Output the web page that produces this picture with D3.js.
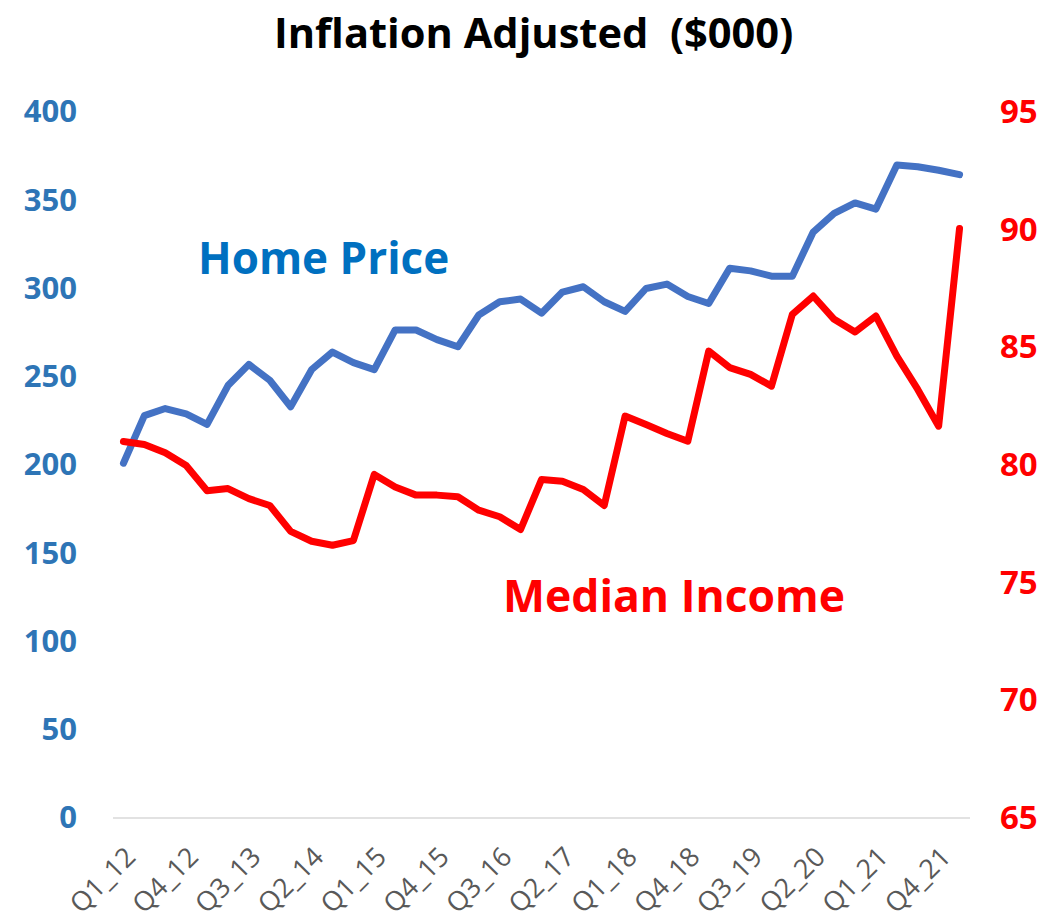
<!DOCTYPE html>
<html>
<head>
<meta charset="utf-8">
<script src="https://cdn.jsdelivr.net/npm/d3@7"></script>
<style>
  body { margin: 0; background: #fff; }
  svg { display: block; }
</style>
</head>
<body>
<div id="chart"></div>
<script>
// quarters Q1_12 .. Q1_22
const quarters = [];
for (let yr = 12; yr <= 22; yr++) {
	for (let q = 1; q <= 4; q++) {
		if (yr === 22 && q > 1) break;
		quarters.push("Q" + q + "_" + yr);
	}
}

// home price, $000 (left axis)
const homePrice = [201, 228, 232, 229, 223, 245, 257, 248, 233, 254,
	264, 258, 254, 276.5, 276.5, 271, 267, 285, 292.5, 294,
	286, 298, 301, 292.5, 287, 300, 302.5, 295.5, 291.5, 311.5,
	310, 307, 307, 332, 342.5, 348.5, 345, 370, 369, 367, 364.5];

// median income, $000 (right axis)
const medianIncome = [81.0, 80.87, 80.52, 79.98, 78.91, 79.0, 78.57, 78.28, 77.18, 76.76,
	76.59, 76.79, 79.6, 79.07, 78.72, 78.72, 78.65, 78.08, 77.8, 77.26,
	79.38, 79.31, 78.96, 78.28, 82.08, 81.72, 81.34, 81.01, 84.84, 84.14,
	83.85, 83.35, 86.4, 87.18, 86.19, 85.65, 86.33, 84.63, 83.21, 81.65, 90.05];

const leftTicks = [0, 50, 100, 150, 200, 250, 300, 350, 400];
const rightTicks = [65, 70, 75, 80, 85, 90, 95];
// every third quarter gets a label
const tickLabels = quarters.filter((d, i) => i % 3 === 0 && i < 40);

const W = 1051, H = 923;
const margin = { top: 112, right: 81, bottom: 105, left: 113 };
const FONT = "'Open Sans', Lato, sans-serif";

const svg = d3.select("#chart").append("svg")
	.attr("width", W)
	.attr("height", H);

const x = d3.scaleBand()
	.domain(quarters)
	.range([margin.left, W - margin.right]);

const yL = d3.scaleLinear()
	.domain([0, 400])
	.range([H - margin.bottom, margin.top]);

const yR = d3.scaleLinear()
	.domain([65, 95])
	.range([H - margin.bottom, margin.top]);

const cx = d => x(d) + x.bandwidth() / 2;

// title
svg.append("text")
	.attr("x", 274)
	.attr("y", 48)
	.style("font-family", FONT)
	.style("font-weight", "bold")
	.style("font-size", "41.6px")
	.style("fill", "#000")
	.attr("xml:space", "preserve")
	.text("Inflation Adjusted  ($000)");

// left axis
const gL = svg.append("g")
	.attr("transform", `translate(${margin.left},0)`)
	.call(d3.axisLeft(yL).tickValues(leftTicks).tickSize(0).tickPadding(36));
gL.select(".domain").remove();
gL.selectAll("text")
	.style("font-family", FONT)
	.style("font-weight", "bold")
	.style("font-size", "31px")
	.style("fill", "#2E75B6");

// right axis
const gR = svg.append("g")
	.attr("transform", `translate(${W - margin.right},0)`)
	.call(d3.axisRight(yR).tickValues(rightTicks).tickSize(0).tickPadding(30));
gR.select(".domain").remove();
gR.selectAll("text")
	.style("font-family", FONT)
	.style("font-weight", "bold")
	.style("font-size", "33px")
	.style("fill", "#FF0000");

// x axis baseline
svg.append("line")
	.attr("x1", margin.left)
	.attr("x2", W - margin.right)
	.attr("y1", yL(0))
	.attr("y2", yL(0))
	.style("stroke", "#D9D9D9")
	.style("stroke-width", 1.5);

// x labels, rotated
svg.append("g").selectAll("text")
	.data(tickLabels)
	.enter().append("text")
	.attr("transform", d => `translate(${cx(d) + 7},${yL(0) + 34}) rotate(-45)`)
	.attr("text-anchor", "end")
	.attr("dy", "0.35em")
	.style("font-family", FONT)
	.style("font-size", "27px")
	.style("fill", "#595959")
	.text(d => d);

// lines
const lineL = d3.line()
	.x((d, i) => cx(quarters[i]))
	.y(d => yL(d));

const lineR = d3.line()
	.x((d, i) => cx(quarters[i]))
	.y(d => yR(d));

svg.append("path")
	.datum(homePrice)
	.attr("d", lineL)
	.style("fill", "none")
	.style("stroke", "#4472C4")
	.style("stroke-width", 7)
	.style("stroke-linejoin", "round")
	.style("stroke-linecap", "round");

svg.append("path")
	.datum(medianIncome)
	.attr("d", lineR)
	.style("fill", "none")
	.style("stroke", "#FF0000")
	.style("stroke-width", 7)
	.style("stroke-linejoin", "round")
	.style("stroke-linecap", "round");

// series labels
svg.append("text")
	.attr("x", 198)
	.attr("y", 274)
	.style("font-family", FONT)
	.style("font-weight", "bold")
	.style("font-size", "44px")
	.style("fill", "#0070C0")
	.text("Home Price");

svg.append("text")
	.attr("x", 503)
	.attr("y", 612)
	.style("font-family", FONT)
	.style("font-weight", "bold")
	.style("font-size", "44.5px")
	.style("fill", "#FF0000")
	.text("Median Income");
</script>
</body>
</html>
